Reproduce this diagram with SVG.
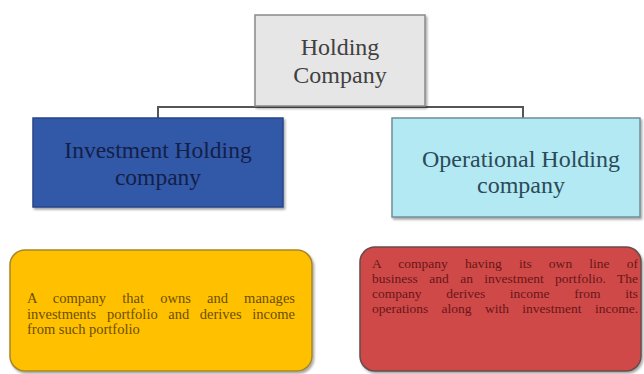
<svg xmlns="http://www.w3.org/2000/svg" width="644" height="374" viewBox="0 0 644 374">
<defs>
<style>
.t{font-family:"Liberation Serif","Times New Roman",serif;text-anchor:middle}
.s{font-family:"Liberation Serif","Times New Roman",serif}
.y{font-size:14.5px;fill:#6b4f00}
.r{font-size:13.5px;fill:#6a1616}
.box{stroke-width:1.5}
</style>
<filter id="sh" x="-5%" y="-5%" width="115%" height="120%">
<feDropShadow dx="1.5" dy="2" stdDeviation="1.2" flood-color="#000" flood-opacity="0.35"/>
</filter>
</defs>
<rect width="644" height="374" fill="#ffffff"/>
<g id="connectors">
<path d="M158,118 V107 H523 V118" fill="none" stroke="#555" stroke-width="2"/>
</g>
<g id="holding">
<rect class="box" x="255" y="15" width="170" height="91" fill="#e6e6e6" stroke="#8a8a8a" filter="url(#sh)"/>
<text class="t" x="340" y="55" font-size="24" fill="#404040">Holding</text>
<text class="t" x="340" y="83" font-size="24" fill="#404040">Company</text>
</g>
<g id="investment">
<rect class="box" x="33" y="118" width="250" height="89" fill="#3058a8" stroke="#27468a" filter="url(#sh)"/>
<text class="t" x="158" y="158" font-size="23.5" fill="#13204a">Investment Holding</text>
<text class="t" x="158" y="185" font-size="23.5" fill="#13204a">company</text>
</g>
<g id="operational">
<rect class="box" x="392" y="118" width="248" height="99" fill="#b2e9f3" stroke="#6f8f96" filter="url(#sh)"/>
<text class="t" x="521" y="167" font-size="24" fill="#2c4a58">Operational Holding</text>
<text class="t" x="521" y="193" font-size="24" fill="#2c4a58">company</text>
</g>
<g id="investment-desc">
<rect class="box" x="10" y="250" width="302" height="121" rx="15" fill="#ffc000" stroke="#a8862a" filter="url(#sh)"/>
<text class="s y" x="27" y="303" word-spacing="12.4" textLength="268" lengthAdjust="spacing">A company that owns and manages</text>
<text class="s y" x="27" y="318.5" word-spacing="7" textLength="268" lengthAdjust="spacing">investments portfolio and derives income</text>
<text class="s y" x="27" y="334">from such portfolio</text>
</g>
<g id="operational-desc">
<rect class="box" x="360" y="247" width="281" height="124" rx="15" fill="#cf4a4a" stroke="#6a4a4a" filter="url(#sh)"/>
<text class="s r" x="372" y="268" word-spacing="13.7" textLength="266" lengthAdjust="spacing">A company having its own line of</text>
<text class="s r" x="372" y="283" word-spacing="8" textLength="266" lengthAdjust="spacing">business and an investment portfolio. The</text>
<text class="s r" x="372" y="298" word-spacing="21.3" textLength="266" lengthAdjust="spacing">company derives income from its</text>
<text class="s r" x="372" y="313" word-spacing="10" textLength="266" lengthAdjust="spacing">operations along with investment income.</text>
</g>
</svg>
